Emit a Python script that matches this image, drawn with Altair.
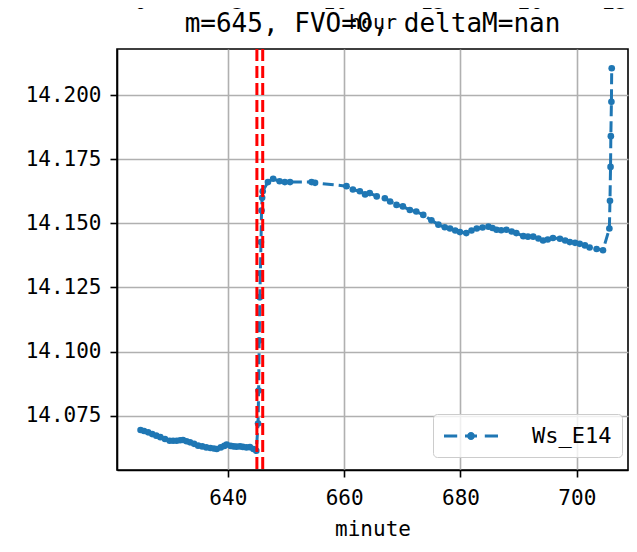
import altair as alt
import pandas as pd

# ---- data ----
minutes = [
    625.0, 625.6, 626.3, 627.0, 627.7, 628.4, 629.2, 630.0, 630.6, 631.2, 631.8, 632.3,
    632.9, 633.5, 634.2, 634.9, 635.6, 636.3, 637.0, 637.6, 638.1, 638.8, 639.4, 639.8,
    640.5, 641.0, 641.5, 642.1, 642.6, 643.2, 643.8, 644.4, 644.9,
    645.2, 645.3, 645.4, 645.5, 645.6, 645.7, 645.8, 645.9, 646.0,
    646.9, 647.8, 648.9, 649.8, 650.7, 654.4, 655.0,
    660.4, 661.5, 662.7, 663.6, 664.4, 665.6, 667.0, 667.9, 669.0, 670.1, 671.3, 672.4,
    673.6, 675.0, 676.2, 677.3, 678.2, 679.1, 679.9, 681.0, 681.9, 682.8, 683.8, 684.8,
    685.5, 686.2, 687.0, 687.9, 688.8, 689.6, 690.8, 691.6, 692.5, 693.4, 694.2, 695.0,
    695.9, 697.1, 698.0, 698.8, 699.7, 700.5, 701.4, 702.2, 703.4, 704.5,
    705.6, 705.7, 705.8, 705.85, 705.95, 706.0,
]
values = [
    14.0694, 14.0690, 14.0685, 14.0678, 14.0672, 14.0666, 14.0659, 14.0652, 14.0652, 14.0652, 14.0654, 14.0655,
    14.0650, 14.0646, 14.0640, 14.0633, 14.0630, 14.0626, 14.0624, 14.0622, 14.0620, 14.0626, 14.0632, 14.0637,
    14.0632, 14.0630, 14.0629, 14.0630, 14.0628, 14.0626, 14.0627, 14.0620, 14.0613,
    14.0719, 14.0848, 14.1043, 14.1212, 14.1305, 14.1427, 14.1550, 14.1600, 14.1625,
    14.1661, 14.1674, 14.1664, 14.1661, 14.1661, 14.1661, 14.1658,
    14.1645, 14.1632, 14.1625, 14.1613, 14.1618, 14.1605, 14.1598, 14.1585, 14.1572, 14.1566, 14.1552, 14.1546,
    14.1533, 14.1512, 14.1495, 14.1485, 14.1480, 14.1472, 14.1466, 14.1462, 14.1472, 14.1480, 14.1484, 14.1487,
    14.1482, 14.1475, 14.1473, 14.1475, 14.1468, 14.1462, 14.1450, 14.1448, 14.1448, 14.1441, 14.1433, 14.1437,
    14.1443, 14.1440, 14.1433, 14.1427, 14.1424, 14.1420, 14.1414, 14.1406, 14.1400, 14.1395,
    14.1480, 14.1588, 14.1720, 14.1840, 14.1974, 14.2105,
]
series_name = "Ws_E14"
marker_minutes = [645, 646]
x_ticks = [640, 660, 680, 700]
y_ticks = [14.075, 14.100, 14.125, 14.150, 14.175, 14.200]
hour_ticks = [0, 5, 10, 15, 20, 25]
title_text = "m=645, FVO=0, deltaM=nan"

df = pd.DataFrame({"minute": minutes, "value": values, "series": series_name})
vdf = pd.DataFrame({"minute": marker_minutes})
hdf = pd.DataFrame({"hour": hour_ticks})

BLUE = "#1f77b4"
FONT = "DejaVu Sans Mono"

xscale = alt.Scale(domain=[620.95, 708.8], nice=False, zero=False)
yscale = alt.Scale(domain=[14.0538, 14.2180], nice=False, zero=False)
hscale = alt.Scale(domain=[-1.18, 25.03], nice=False, zero=False)

xaxis = alt.Axis(values=x_ticks, title="minute", format="d", labelPadding=10, titlePadding=10)
yaxis = alt.Axis(values=y_ticks, title=None, format=".3f", labelPadding=9)

legend_path = (
    "M-2.25,-0.13H-1.15V0.13H-2.25Z "
    "M-0.5,-0.13H0.5V0.13H-0.5Z "
    "M1.15,-0.13H2.25V0.13H1.15Z "
    "M0.33,0A0.33,0.33,0,1,1,-0.33,0A0.33,0.33,0,1,1,0.33,0Z"
)

base = alt.Chart(df)

line = base.mark_line(strokeDash=[11, 5], strokeWidth=3, color=BLUE, clip=True).encode(
    x=alt.X("minute:Q", scale=xscale, axis=xaxis),
    y=alt.Y("value:Q", scale=yscale, axis=yaxis),
)

points = base.mark_point(filled=True, size=44, opacity=1, clip=True).encode(
    x=alt.X("minute:Q", scale=xscale, axis=xaxis),
    y=alt.Y("value:Q", scale=yscale, axis=yaxis),
    color=alt.Color(
        "series:N",
        scale=alt.Scale(range=[BLUE]),
        legend=alt.Legend(
            title=None,
            orient="none",
            legendX=316,
            legendY=365,
            padding=10,
            strokeColor="#cccccc",
            fillColor="rgba(255,255,255,0.8)",
            cornerRadius=4,
            labelFont=FONT,
            labelFontSize=22,
            labelColor="black",
            symbolType=legend_path,
            symbolSize=576,
            symbolOffset=16,
            labelOffset=49,
            symbolStrokeWidth=0,
            symbolFillColor=BLUE,
            symbolOpacity=1,
        ),
    ),
)

vlines = alt.Chart(vdf).mark_rule(color="red", strokeWidth=3, strokeDash=[12, 5]).encode(
    x=alt.X("minute:Q", scale=xscale, axis=xaxis),
)

main = alt.layer(line, points, vlines)

top_axis = alt.Chart(hdf).mark_rule(opacity=0).encode(
    x=alt.X(
        "hour:Q",
        scale=hscale,
        axis=alt.Axis(
            orient="top", title="hour", values=hour_ticks, format="d",
            ticks=False, domain=False, grid=False, labelPadding=37, labelFontSize=21,
            titleY=-27, titleBaseline="middle", titleFontSize=20,
        ),
    ),
)

chart = (
    alt.layer(main, top_axis)
    .resolve_scale(x="independent")
    .resolve_axis(x="independent")
    .properties(
        width=511,
        height=421,
        autosize=alt.AutoSizeParams(type="none"),
        padding={"left": 109, "top": 41, "right": 1, "bottom": 74},
        title=alt.Title(title_text, font=FONT, fontSize=26, fontWeight="normal", color="black", offset=-46),
    )
    .configure_view(stroke="black", strokeWidth=1.6)
    .configure_axis(
        grid=True,
        gridColor="#b0b0b0",
        gridWidth=1.6,
        domainColor="black",
        domainWidth=1.6,
        tickColor="black",
        tickWidth=1.6,
        tickSize=7,
        labelFont=FONT,
        labelFontSize=21,
        labelColor="black",
        titleFont=FONT,
        titleFontSize=21,
        titleFontWeight="normal",
        titleColor="black",
    )
)

chart.save("out.html", embed_options={"renderer": "svg", "actions": False})
